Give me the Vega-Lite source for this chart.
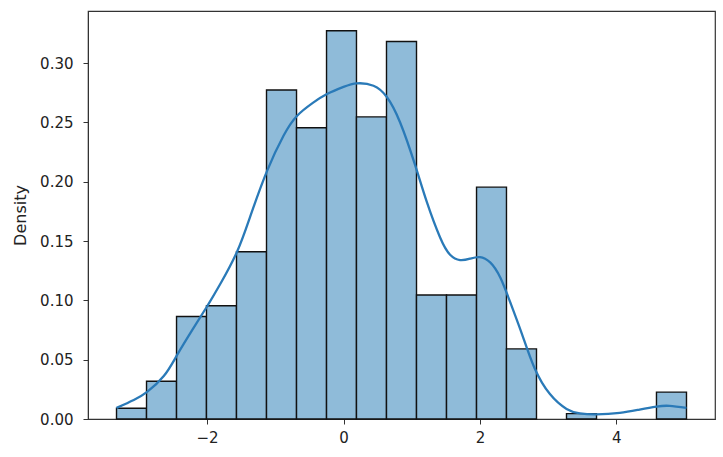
{
  "$schema": "https://vega.github.io/schema/vega-lite/v6.json",
  "width": 627,
  "height": 408,
  "autosize": {"type": "none"},
  "padding": {"left": 88, "top": 11, "right": 8, "bottom": 38},
  "datasets": {
    "bins": [
      {"x0": -3.328, "x1": -2.888, "density": 0.0091},
      {"x0": -2.888, "x1": -2.448, "density": 0.0318},
      {"x0": -2.448, "x1": -2.009, "density": 0.0864},
      {"x0": -2.009, "x1": -1.569, "density": 0.0955},
      {"x0": -1.569, "x1": -1.129, "density": 0.1410},
      {"x0": -1.129, "x1": -0.689, "density": 0.2774},
      {"x0": -0.689, "x1": -0.249, "density": 0.2456},
      {"x0": -0.249, "x1": 0.190, "density": 0.3274},
      {"x0": 0.190, "x1": 0.630, "density": 0.2547},
      {"x0": 0.630, "x1": 1.070, "density": 0.3183},
      {"x0": 1.070, "x1": 1.510, "density": 0.1046},
      {"x0": 1.510, "x1": 1.950, "density": 0.1046},
      {"x0": 1.950, "x1": 2.389, "density": 0.1955},
      {"x0": 2.389, "x1": 2.829, "density": 0.0591},
      {"x0": 3.269, "x1": 3.709, "density": 0.0045},
      {"x0": 4.588, "x1": 5.028, "density": 0.0227}
    ],
    "kde": [
      {"x": -3.328, "y": 0.0093},
      {"x": -3.075, "y": 0.0160},
      {"x": -2.879, "y": 0.0228},
      {"x": -2.635, "y": 0.0362},
      {"x": -2.439, "y": 0.0540},
      {"x": -2.196, "y": 0.0770},
      {"x": -2.0, "y": 0.0950},
      {"x": -1.805, "y": 0.1140},
      {"x": -1.561, "y": 0.1410},
      {"x": -1.366, "y": 0.1710},
      {"x": -1.122, "y": 0.2090},
      {"x": -0.878, "y": 0.2390},
      {"x": -0.683, "y": 0.2555},
      {"x": -0.45, "y": 0.2665},
      {"x": -0.243, "y": 0.2740},
      {"x": 0.0, "y": 0.2800},
      {"x": 0.196, "y": 0.2830},
      {"x": 0.439, "y": 0.2810},
      {"x": 0.635, "y": 0.2715},
      {"x": 0.83, "y": 0.2500},
      {"x": 1.05, "y": 0.2140},
      {"x": 1.221, "y": 0.1830},
      {"x": 1.416, "y": 0.1530},
      {"x": 1.562, "y": 0.1385},
      {"x": 1.709, "y": 0.1340},
      {"x": 1.855, "y": 0.1352},
      {"x": 2.0, "y": 0.1365},
      {"x": 2.15, "y": 0.1320},
      {"x": 2.3, "y": 0.1190},
      {"x": 2.46, "y": 0.0960},
      {"x": 2.62, "y": 0.0710},
      {"x": 2.8, "y": 0.0430},
      {"x": 3.026, "y": 0.0210},
      {"x": 3.27, "y": 0.0085},
      {"x": 3.466, "y": 0.0047},
      {"x": 3.71, "y": 0.0039},
      {"x": 4.05, "y": 0.0052},
      {"x": 4.34, "y": 0.0080},
      {"x": 4.589, "y": 0.0105},
      {"x": 4.78, "y": 0.0111},
      {"x": 5.028, "y": 0.0093}
    ]
  },
  "layer": [
    {
      "data": {"name": "bins"},
      "mark": {"type": "rect", "fill": "#8fbbd9", "stroke": "#111111", "strokeWidth": 1.4},
      "encoding": {
        "x": {
          "field": "x0",
          "type": "quantitative",
          "scale": {"domain": [-3.746, 5.446], "nice": false, "zero": false},
          "axis": {"values": [-2, 0, 2, 4], "format": "d", "title": null, "labelPadding": 6}
        },
        "x2": {"field": "x1"},
        "y": {
          "field": "density",
          "type": "quantitative",
          "scale": {"domain": [0, 0.344], "nice": false},
          "axis": {
            "values": [0, 0.05, 0.1, 0.15, 0.2, 0.25, 0.3],
            "format": ".2f",
            "title": "Density",
            "labelPadding": 10,
            "titlePadding": 11
          }
        },
        "y2": {"datum": 0}
      }
    },
    {
      "data": {"name": "kde"},
      "mark": {"type": "line", "color": "#2a7ab8", "strokeWidth": 2.3, "interpolate": "natural"},
      "encoding": {
        "x": {"field": "x", "type": "quantitative"},
        "y": {"field": "y", "type": "quantitative"},
        "order": {"field": "x"}
      }
    }
  ],
  "config": {
    "font": "DejaVu Sans",
    "view": {"stroke": "#333333", "strokeWidth": 1.2},
    "axis": {
      "grid": false,
      "domain": true,
      "domainColor": "#333333",
      "tickColor": "#333333",
      "tickSize": 5,
      "labelFont": "DejaVu Sans",
      "labelFontSize": 15,
      "labelColor": "#222222",
      "titleFont": "DejaVu Sans",
      "titleFontSize": 16,
      "titleFontWeight": "normal",
      "titleColor": "#222222"
    }
  }
}
